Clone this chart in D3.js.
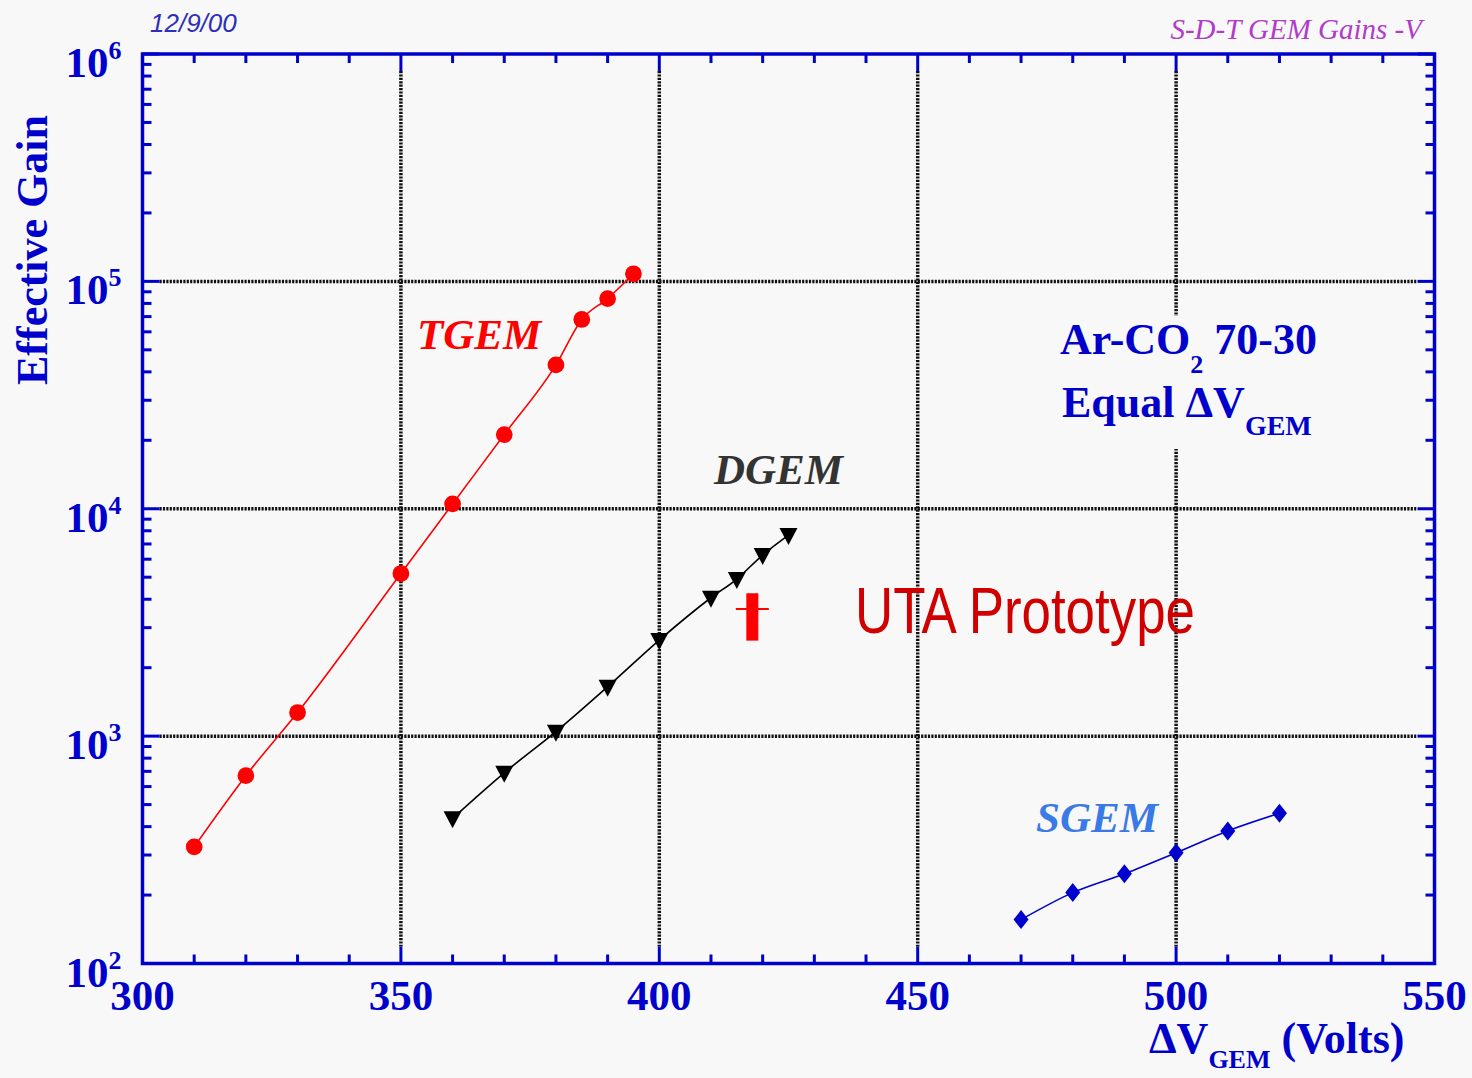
<!DOCTYPE html>
<style>
  body { margin: 0; background: #f8f8f8; }
  svg { display: block; }
</style>
<svg width="1472" height="1078"></svg>
<script src="https://d3js.org/d3.v7.min.js"></script>
<script>

// gain vs GEM voltage
var tgemVolts = [310, 320, 330, 350, 360, 370, 380, 385, 390, 395];
var tgemGain  = [326, 670, 1270, 5190, 10500, 21200, 42900, 68000, 84000, 108000];

var dgemVolts = [360, 370, 380, 390, 400, 410, 415, 420, 425];
var dgemGain  = [435, 690, 1046, 1649, 2646, 4061, 4909, 6259, 7660];

var sgemVolts = [470, 480, 490, 500, 510, 520];
var sgemGain  = [156, 205, 248, 307, 383, 458];

// UTA prototype point with error bars
var utaVolts = [418], utaVoltErr = [3.2];
var utaGain = [3620], utaGainLow = [2630], utaGainHigh = [4250];

var xTickLabels = [300, 350, 400, 450, 500, 550];
var yTickExps = [2, 3, 4, 5, 6];

var blue = "#0000cc",
    serif = "'Liberation Serif', 'Times New Roman', serif";

var svg = d3.select("svg"),
    margin = {top: 54, right: 37.5, bottom: 114.5, left: 142.5},
    width = +svg.attr("width") - margin.left - margin.right,
    height = +svg.attr("height") - margin.top - margin.bottom,
    g = svg.append("g").attr("transform", "translate(" + margin.left + "," + margin.top + ")");

var x = d3.scaleLinear()
    .domain([300, 550])
    .range([0, width]);

var y = d3.scaleLog()
    .domain([100, 1e6])
    .range([height, 0]);

function zip(xs, ys) {
  return xs.map(function(v, i) { return {v: v, gain: ys[i]}; });
}

var line = d3.line()
    .curve(d3.curveMonotoneX)
    .x(function(d) { return x(d.v); })
    .y(function(d) { return y(d.gain); });

// grid (dotted, stops at the major ticks)
var major = 17, minor = 9;

g.append("g").selectAll("line")
    .data(xTickLabels.slice(1, -1))
  .enter().append("line")
    .attr("x1", function(d) { return x(d); })
    .attr("x2", function(d) { return x(d); })
    .attr("y1", major)
    .attr("y2", height - major)
    .attr("stroke", "#111")
    .attr("stroke-width", 3.5)
    .attr("stroke-dasharray", "2.2,1.2");

g.append("g").selectAll("line")
    .data(yTickExps.slice(1, -1))
  .enter().append("line")
    .attr("x1", major)
    .attr("x2", width - major)
    .attr("y1", function(d) { return y(Math.pow(10, d)); })
    .attr("y2", function(d) { return y(Math.pow(10, d)); })
    .attr("stroke", "#111")
    .attr("stroke-width", 3.5)
    .attr("stroke-dasharray", "2.2,1.2");

// box behind the gas label hides the grid there
g.append("rect")
    .attr("x", 1052 - margin.left)
    .attr("y", 316 - margin.top)
    .attr("width", 268)
    .attr("height", 133)
    .attr("fill", "#f8f8f8");

// ticks on all four sides, pointing in
var xt = x.ticks(25);
var yt = y.ticks();

function isMajorX(d) { return d % 50 === 0; }
function isMajorY(d) { return Math.abs(Math.log10(d) - Math.round(Math.log10(d))) < 1e-9; }

var ticks = g.append("g").attr("stroke", blue).attr("stroke-width", 3);

[0, height].forEach(function(edge) {
  var dir = edge === 0 ? 1 : -1;
  ticks.selectAll(null)
      .data(xt)
    .enter().append("line")
      .attr("x1", function(d) { return x(d); })
      .attr("x2", function(d) { return x(d); })
      .attr("y1", edge)
      .attr("y2", function(d) { return edge + dir * (isMajorX(d) ? major : minor); });
});

[0, width].forEach(function(edge) {
  var dir = edge === 0 ? 1 : -1;
  ticks.selectAll(null)
      .data(yt)
    .enter().append("line")
      .attr("y1", function(d) { return y(d); })
      .attr("y2", function(d) { return y(d); })
      .attr("x1", edge)
      .attr("x2", function(d) { return edge + dir * (isMajorY(d) ? major : minor); });
});

g.append("rect")
    .attr("width", width)
    .attr("height", height)
    .attr("fill", "none")
    .attr("stroke", blue)
    .attr("stroke-width", 3.5);

// tick labels
g.append("g").selectAll("text")
    .data(xTickLabels)
  .enter().append("text")
    .attr("x", function(d) { return x(d); })
    .attr("y", height + 46)
    .attr("text-anchor", "middle")
    .attr("fill", blue)
    .style("font", "bold 43px " + serif)
    .text(function(d) { return d; });

var yl = g.append("g").selectAll("text")
    .data(yTickExps)
  .enter().append("text")
    .attr("x", -21)
    .attr("y", function(d) { return y(Math.pow(10, d)) + 23; })
    .attr("text-anchor", "end")
    .attr("fill", blue)
    .style("font", "bold 43px " + serif);
yl.append("tspan").text("10");
yl.append("tspan")
    .attr("dy", -18)
    .style("font-size", "26px")
    .text(function(d) { return d; });

// axis titles
svg.append("text")
    .attr("transform", "translate(47,250) rotate(-90)")
    .attr("text-anchor", "middle")
    .attr("fill", blue)
    .style("font", "bold 44px " + serif)
    .text("Effective Gain");

var xTitle = svg.append("text")
    .attr("x", 1149)
    .attr("y", 1053)
    .attr("fill", blue)
    .style("font", "bold 44px " + serif);
xTitle.append("tspan").text("\u0394V");
xTitle.append("tspan").attr("dy", 15).style("font-size", "26px").text("GEM");
xTitle.append("tspan").attr("dy", -15).text(" (Volts)");

// series
function drawSeries(data, color, marker) {
  g.append("path")
      .datum(data)
      .attr("fill", "none")
      .attr("stroke", color)
      .attr("stroke-width", 1.6)
      .attr("d", line);

  g.append("g").selectAll("path")
      .data(data)
    .enter().append("path")
      .attr("transform", function(d) { return "translate(" + x(d.v) + "," + y(d.gain) + ")"; })
      .attr("fill", color)
      .attr("d", marker);
}

drawSeries(zip(tgemVolts, tgemGain), "#ff0000", d3.symbol(d3.symbolCircle, 220)());
drawSeries(zip(dgemVolts, dgemGain), "#000", "M-9,-7L9,-7L0,10Z");
drawSeries(zip(sgemVolts, sgemGain), blue, "M0,-9.5L7.5,0L0,9.5L-7.5,0Z");

// UTA prototype
var uta = zip(utaVolts, utaGain);
g.append("g").selectAll("rect")
    .data(uta)
  .enter().append("rect")
    .attr("x", function(d) { return x(d.v) - 6; })
    .attr("y", function(d, i) { return y(utaGainHigh[i]); })
    .attr("width", 12)
    .attr("height", function(d, i) { return y(utaGainLow[i]) - y(utaGainHigh[i]); })
    .attr("fill", "#ff0000");
g.append("g").selectAll("line")
    .data(uta)
  .enter().append("line")
    .attr("x1", function(d, i) { return x(d.v - utaVoltErr[i]); })
    .attr("x2", function(d, i) { return x(d.v + utaVoltErr[i]); })
    .attr("y1", function(d) { return y(d.gain); })
    .attr("y2", function(d) { return y(d.gain); })
    .attr("stroke", "#ff0000")
    .attr("stroke-width", 2);

// labels
function label(txt, px, py, color, font) {
  return svg.append("text")
      .attr("x", px)
      .attr("y", py)
      .attr("fill", color)
      .style("font", font)
      .text(txt);
}

label("TGEM", 417, 349, "#ff0000", "italic bold 43px " + serif);
label("DGEM", 714, 484, "#333333", "italic bold 43px " + serif);
label("SGEM", 1036, 832, "#3a7ae6", "italic bold 43px " + serif);

label("12/9/00", 150, 32, "#2f2fb8", "italic 26px 'Liberation Sans', Arial, sans-serif");
label("S-D-T GEM Gains -V", 1422, 39, "#b03cc8", "italic 29px " + serif)
    .attr("text-anchor", "end");

var gas = svg.append("text")
    .attr("x", 1060)
    .attr("y", 354)
    .attr("fill", blue)
    .style("font", "bold 44px " + serif);
gas.append("tspan").text("Ar-CO");
gas.append("tspan").attr("dy", 19).style("font-size", "26px").text("2");
gas.append("tspan").attr("dy", -19).text(" 70-30");

var eq = svg.append("text")
    .attr("x", 1062)
    .attr("y", 417)
    .attr("fill", blue)
    .style("font", "bold 44px " + serif);
eq.append("tspan").text("Equal \u0394V");
eq.append("tspan").attr("dy", 18).style("font-size", "28px").text("GEM");

label("UTA Prototype", 855, 633, "#d00000", "64px 'Liberation Sans Narrow', 'Liberation Sans', Arial, sans-serif")
    .attr("textLength", 340)
    .attr("lengthAdjust", "spacingAndGlyphs");

</script>
